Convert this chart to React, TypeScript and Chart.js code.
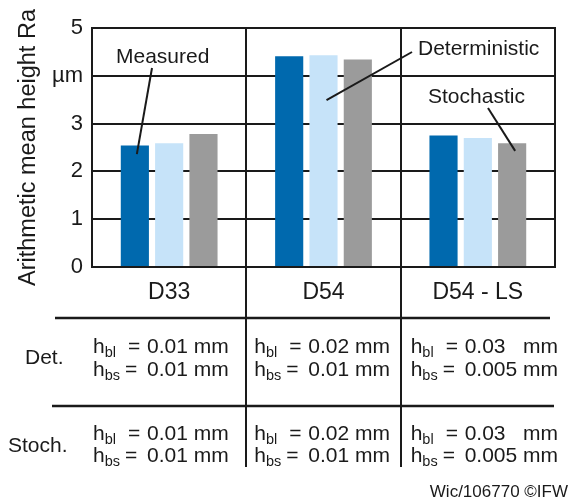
import React, { useEffect, useRef } from 'react';
import { Chart, registerables } from 'chart.js';

Chart.register(...registerables);

const categories = ['D33', 'D54', 'D54 - LS'];
const seriesNames = ['Measured', 'Deterministic', 'Stochastic'];
const measured = [2.54, 4.41, 2.75];
const deterministic = [2.59, 4.43, 2.7];
const stochastic = [2.78, 4.34, 2.59];
const yTickLabels = ['0', '1', '2', '3', 'µm', '5'];
const yTitle = 'Arithmetic mean height Ra';
const rowLabels = ['Det.', 'Stoch.'];
const detHbl = ['0.01', '0.02', '0.03'];
const detHbs = ['0.01', '0.01', '0.005'];
const stochHbl = ['0.01', '0.02', '0.03'];
const stochHbs = ['0.01', '0.01', '0.005'];
const unitLabel = 'mm';
const credit = 'Wic/106770 ©IFW';
// pointer targets (value on the bar where each callout line ends)
const calloutValues = [2.36, 3.49, 2.43];
const calloutCategory = [0, 1, 2];

const FONT = '"Liberation Sans", Arial, Helvetica, sans-serif';
const INK = '#1a1a1a';
const colors = ['#0069AE', '#C6E3F9', '#9B9B9B'];

const overlay = {
  id: 'overlay',
  afterDraw(chart: any) {
    const { ctx, chartArea } = chart;
    const xs = chart.scales.x;
    const ys = chart.scales.y;
    const px = (i: number) => xs.getPixelForValue(i);
    const seps = [0, 1].map((i) => (px(i) + px(i + 1)) / 2);
    ctx.save();
    ctx.strokeStyle = INK;
    ctx.lineWidth = 2;
    ctx.lineCap = 'butt';
    // vertical separators
    seps.forEach((x) => {
      ctx.beginPath();
      ctx.moveTo(Math.round(x), chartArea.top);
      ctx.lineTo(Math.round(x), 467);
      ctx.stroke();
    });
    // right border
    ctx.beginPath();
    ctx.moveTo(chartArea.right, chartArea.top - 1);
    ctx.lineTo(chartArea.right, chartArea.bottom + 1);
    ctx.stroke();
    // table horizontal lines
    ctx.lineWidth = 2.5;
    ctx.beginPath();
    ctx.moveTo(55, 318);
    ctx.lineTo(550, 318);
    ctx.moveTo(52, 406);
    ctx.lineTo(554, 406);
    ctx.stroke();

    // table text
    ctx.fillStyle = INK;
    ctx.textBaseline = 'alphabetic';
    ctx.textAlign = 'left';
    const big = `21px ${FONT}`;
    const small = `14.5px ${FONT}`;
    const colStarts = [chartArea.left + 1, seps[0] + 8, seps[1] + 10];
    const rows = [
      { label: rowLabels[0], lx: 25, ly: 364, hbl: detHbl, hbs: detHbs, y: [353, 376] },
      { label: rowLabels[1], lx: 8, ly: 452, hbl: stochHbl, hbs: stochHbs, y: [440, 462] },
    ];
    rows.forEach((r) => {
      ctx.font = big;
      ctx.fillText(r.label, r.lx, r.ly);
      colStarts.forEach((x0, c) => {
        ctx.font = big;
        const unitOff = Math.max(
          ctx.measureText(r.hbl[c] + ' ').width,
          ctx.measureText(r.hbs[c] + ' ').width
        );
        const lines = [
          { sub: 'bl', eq: 35, val: r.hbl[c], y: r.y[0] },
          { sub: 'bs', eq: 32, val: r.hbs[c], y: r.y[1] },
        ];
        lines.forEach((ln) => {
          ctx.font = big;
          ctx.fillText('h', x0, ln.y);
          const hw = ctx.measureText('h').width;
          ctx.font = small;
          ctx.fillText(ln.sub, x0 + hw, ln.y + 4);
          ctx.font = big;
          ctx.fillText('=', x0 + ln.eq, ln.y);
          ctx.fillText(ln.val, x0 + 54, ln.y);
          ctx.fillText(unitLabel, x0 + 54 + unitOff, ln.y);
        });
      });
    });

    // credit
    ctx.font = `17px ${FONT}`;
    ctx.textAlign = 'right';
    ctx.fillText(credit, 568, 497);

    // callouts
    ctx.textAlign = 'left';
    ctx.font = `21px ${FONT}`;
    const labelPos = [
      { tx: 116, ty: 63, sx: 152, sy: 68, dx: 2 },
      { tx: 418, ty: 55, sx: 412, sy: 52, dx: 3 },
      { tx: 428, ty: 103, sx: 488, sy: 108, dx: 3 },
    ];
    ctx.lineWidth = 2;
    labelPos.forEach((p, i) => {
      ctx.fillText(seriesNames[i], p.tx, p.ty);
      const bar = chart.getDatasetMeta(i).data[calloutCategory[i]];
      const ex = bar.x + p.dx;
      const ey = ys.getPixelForValue(calloutValues[i]);
      ctx.beginPath();
      ctx.moveTo(p.sx, p.sy);
      ctx.lineTo(ex, ey);
      ctx.stroke();
    });
    ctx.restore();
  },
};

export default function App() {
  const ref = useRef<HTMLCanvasElement | null>(null);
  useEffect(() => {
    if (!ref.current) return;
    const chart = new Chart(ref.current, {
      type: 'bar',
      data: {
        labels: categories,
        datasets: [
          { label: seriesNames[0], data: measured, backgroundColor: colors[0] },
          { label: seriesNames[1], data: deterministic, backgroundColor: colors[1] },
          { label: seriesNames[2], data: stochastic, backgroundColor: colors[2] },
        ],
      },
      options: {
        responsive: false,
        animation: false,
        events: [],
        categoryPercentage: 0.667,
        barPercentage: 0.82,
        layout: { padding: { top: 28, right: 16, left: 0, bottom: 0 } },
        plugins: { legend: { display: false }, tooltip: { enabled: false } },
        scales: {
          y: {
            min: 0,
            max: 5,
            ticks: {
              stepSize: 1,
              padding: 9,
              color: INK,
              font: { family: FONT, size: 22 },
              callback: (v: any) => yTickLabels[Math.round(Number(v))],
            },
            grid: { color: INK, lineWidth: 2, drawTicks: false },
            border: { display: true, color: INK, width: 2 },
            title: {
              display: true,
              text: yTitle,
              color: INK,
              font: { family: FONT, size: 23.5 },
              padding: { top: 14, bottom: 0 },
            },
            afterFit: (s: any) => {
              s.width = 92;
            },
          },
          x: {
            ticks: {
              padding: 12,
              color: INK,
              font: { family: FONT, size: 23 },
            },
            grid: { display: false, drawTicks: false },
            border: { display: true, color: INK, width: 2 },
            afterFit: (s: any) => {
              s.height = 236;
            },
          },
        },
      },
      plugins: [overlay],
    });
    return () => chart.destroy();
  }, []);
  return (
    <div style={{ position: 'absolute', left: 0, top: 0, background: '#fff' }}>
      <canvas ref={ref} width={571} height={503} />
    </div>
  );
}
